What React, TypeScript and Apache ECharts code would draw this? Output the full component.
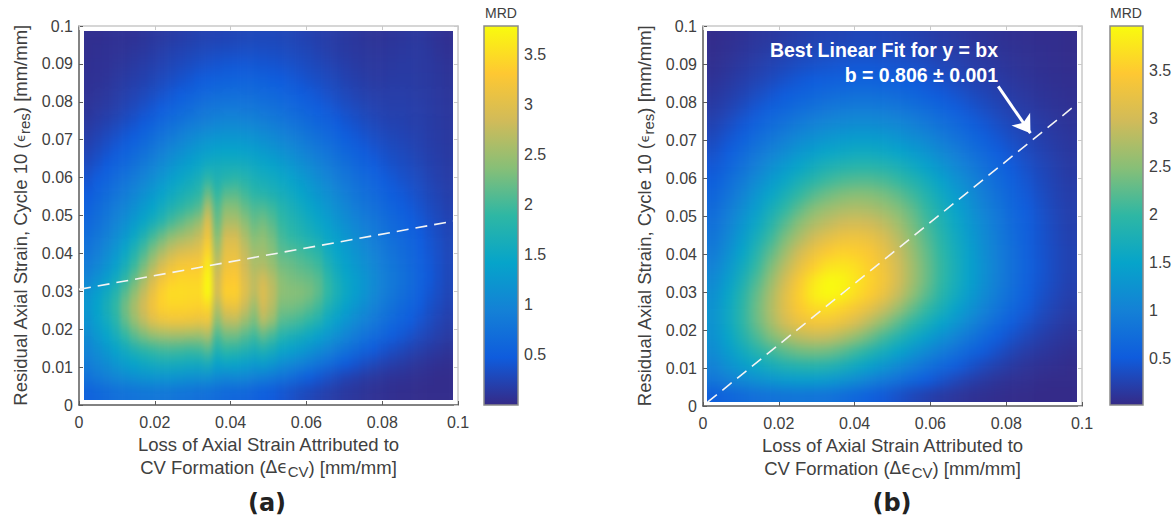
import React, { useEffect, useRef } from "react";
import * as echarts from "echarts";

// MRD: rows top (y≈0.097) to bottom (y≈0.003), 40 columns left to right
const panelARows: number[][] = [
[.05,.05,.06,.07,.07,.08,.1,.12,.14,.16,.18,.2,.22,.23,.24,.25,.26,.27,.28,.28,.28,.27,.26,.24,.22,.2,.18,.16,.14,.12,.1,.09,.09,.1,.11,.12,.12,.1,.08,.06],
[.05,.06,.07,.08,.09,.11,.13,.16,.19,.22,.24,.26,.28,.3,.32,.33,.34,.35,.35,.34,.33,.32,.3,.28,.26,.23,.2,.17,.15,.13,.12,.11,.11,.12,.13,.14,.14,.12,.09,.07],
[.06,.07,.08,.1,.12,.15,.18,.21,.24,.27,.3,.33,.36,.39,.41,.43,.44,.44,.43,.42,.41,.39,.37,.34,.31,.28,.25,.22,.19,.16,.14,.13,.13,.14,.15,.15,.14,.13,.11,.09],
[.07,.08,.1,.13,.16,.19,.22,.26,.3,.34,.38,.42,.46,.5,.53,.55,.56,.56,.55,.53,.5,.47,.44,.41,.37,.34,.3,.27,.23,.2,.17,.15,.15,.16,.16,.16,.15,.14,.12,.1],
[.08,.1,.12,.16,.2,.24,.28,.33,.38,.43,.48,.53,.58,.62,.66,.68,.69,.68,.66,.64,.61,.57,.53,.49,.45,.41,.36,.32,.28,.24,.21,.19,.18,.18,.18,.17,.16,.15,.13,.11],
[.1,.13,.16,.2,.25,.3,.36,.42,.48,.55,.61,.67,.73,.78,.82,.84,.84,.82,.8,.77,.73,.69,.64,.59,.54,.49,.44,.39,.34,.3,.26,.23,.21,.2,.2,.19,.18,.16,.14,.12],
[.14,.18,.22,.27,.33,.39,.46,.54,.62,.7,.77,.84,.9,.95,1.0,1.02,1.02,1.0,.97,.93,.88,.83,.77,.71,.65,.59,.53,.47,.42,.37,.32,.28,.25,.23,.22,.2,.19,.17,.15,.13],
[.19,.24,.3,.36,.43,.5,.59,.68,.77,.86,.94,1.02,1.1,1.16,1.2,1.22,1.22,1.2,1.16,1.11,1.05,.98,.92,.85,.78,.71,.64,.57,.5,.44,.39,.34,.3,.27,.25,.23,.21,.18,.16,.14],
[.25,.31,.38,.45,.53,.62,.72,.82,.92,1.02,1.11,1.2,1.28,1.35,1.4,1.42,1.42,1.38,1.34,1.28,1.22,1.15,1.08,1.0,.92,.84,.76,.68,.6,.53,.46,.41,.36,.32,.29,.26,.23,.2,.17,.15],
[.32,.39,.47,.55,.64,.74,.85,.96,1.07,1.18,1.28,1.37,1.46,1.56,1.6,1.62,1.62,1.58,1.52,1.46,1.4,1.32,1.24,1.15,1.06,.97,.88,.79,.71,.63,.55,.48,.42,.37,.33,.3,.26,.22,.19,.16],
[.4,.48,.56,.66,.76,.87,.99,1.11,1.23,1.35,1.45,1.55,1.65,1.85,1.72,1.8,1.85,1.78,1.68,1.62,1.56,1.48,1.4,1.3,1.2,1.1,1.0,.9,.81,.72,.64,.56,.49,.43,.38,.34,.3,.25,.21,.18],
[.47,.56,.66,.77,.88,1.0,1.13,1.26,1.39,1.52,1.63,1.73,1.84,2.2,1.9,2.1,2.12,1.98,1.84,1.78,1.7,1.62,1.53,1.43,1.32,1.22,1.12,1.01,.91,.81,.72,.64,.56,.49,.44,.39,.34,.28,.24,.2],
[.55,.65,.76,.88,1.0,1.14,1.28,1.42,1.57,1.72,1.85,1.96,2.08,2.6,2.08,2.38,2.36,2.18,2.05,2.05,1.95,1.78,1.66,1.56,1.45,1.34,1.23,1.12,1.01,.9,.81,.72,.64,.57,.5,.44,.38,.32,.27,.22],
[.62,.72,.84,.97,1.12,1.28,1.45,1.62,1.78,2.0,2.15,2.3,2.45,2.95,2.2,2.6,2.6,2.4,2.2,2.25,2.1,1.9,1.78,1.68,1.57,1.46,1.34,1.22,1.11,1.0,.9,.8,.72,.64,.57,.5,.43,.36,.3,.25],
[.7,.8,.93,1.08,1.25,1.48,1.72,1.98,2.2,2.4,2.52,2.62,2.75,3.15,2.35,2.88,2.88,2.6,2.35,2.4,2.25,2.0,1.88,1.78,1.68,1.57,1.45,1.33,1.21,1.09,.98,.87,.78,.69,.62,.55,.47,.4,.33,.27],
[.78,.9,1.05,1.22,1.45,1.72,2.0,2.3,2.55,2.75,2.88,2.95,3.02,3.4,2.55,3.05,3.05,2.75,2.5,2.5,2.35,2.1,2.05,1.98,1.9,1.8,1.55,1.42,1.3,1.18,1.06,.95,.84,.75,.67,.6,.5,.42,.35,.28],
[.88,1.0,1.16,1.35,1.62,1.92,2.25,2.58,2.88,3.1,3.22,3.25,3.25,3.6,2.72,3.15,3.18,2.85,2.6,2.6,2.45,2.25,2.2,2.12,2.05,1.95,1.7,1.52,1.38,1.25,1.13,1.01,.9,.8,.71,.63,.53,.44,.36,.29],
[1.0,1.15,1.32,1.55,1.85,2.18,2.52,2.88,3.18,3.35,3.42,3.42,3.42,3.72,2.85,3.28,3.3,2.95,2.72,2.85,2.65,2.38,2.3,2.25,2.2,2.1,1.85,1.63,1.47,1.33,1.2,1.07,.95,.84,.75,.66,.55,.45,.36,.28],
[1.2,1.35,1.55,1.78,2.1,2.42,2.75,3.1,3.38,3.5,3.5,3.48,3.48,3.75,2.9,3.38,3.38,3.0,2.72,2.95,2.72,2.42,2.38,2.36,2.3,2.15,1.9,1.68,1.5,1.35,1.2,1.05,.92,.82,.72,.62,.52,.42,.34,.27],
[1.25,1.42,1.65,1.9,2.25,2.58,2.88,3.18,3.38,3.42,3.42,3.4,3.38,3.45,2.65,3.08,3.12,2.8,2.5,2.85,2.65,2.3,2.28,2.22,2.12,1.98,1.72,1.55,1.38,1.23,1.1,.96,.84,.74,.64,.56,.46,.37,.3,.24],
[1.2,1.36,1.56,1.8,2.15,2.45,2.72,2.98,3.12,3.18,3.18,3.16,3.12,3.15,2.4,2.7,2.72,2.5,2.3,2.65,2.45,2.1,2.05,1.98,1.86,1.72,1.5,1.35,1.2,1.06,.94,.83,.72,.63,.55,.47,.39,.32,.25,.2],
[1.1,1.25,1.42,1.62,1.88,2.12,2.3,2.45,2.52,2.55,2.55,2.52,2.5,2.6,2.05,2.25,2.25,2.1,1.98,2.15,2.0,1.78,1.68,1.6,1.5,1.38,1.26,1.13,1.0,.88,.77,.67,.58,.5,.43,.37,.3,.25,.2,.16],
[1.0,1.12,1.26,1.41,1.56,1.72,1.84,1.92,1.98,2.0,1.98,1.95,1.98,2.1,1.75,1.88,1.85,1.75,1.65,1.72,1.62,1.46,1.38,1.3,1.2,1.1,.98,.87,.76,.66,.56,.47,.4,.34,.29,.24,.2,.16,.13,.1],
[.9,1.0,1.1,1.22,1.33,1.42,1.5,1.56,1.6,1.6,1.58,1.56,1.55,1.62,1.4,1.46,1.44,1.36,1.3,1.32,1.24,1.12,1.04,.96,.87,.78,.68,.58,.49,.41,.34,.28,.23,.19,.16,.13,.1,.08,.06,.05],
[.75,.84,.92,1.0,1.07,1.12,1.17,1.2,1.2,1.2,1.18,1.15,1.13,1.13,1.05,1.0,1.02,1.0,.92,.88,.82,.74,.66,.58,.5,.42,.35,.29,.23,.19,.15,.12,.1,.08,.07,.06,.05,.04,.03,.03],
[.55,.6,.65,.7,.74,.77,.79,.8,.8,.79,.77,.75,.72,.7,.66,.62,.6,.58,.54,.5,.46,.41,.36,.31,.27,.23,.19,.16,.13,.11,.09,.07,.06,.05,.04,.04,.03,.03,.03,.03],
];

// MRD: rows top to bottom, 26 columns left to right
const panelBRows: number[][] = [
[.05,.07,.1,.14,.16,.19,.22,.25,.27,.28,.3,.3,.29,.27,.25,.22,.19,.17,.14,.12,.1,.08,.07,.06,.06,.05],
[.06,.09,.13,.17,.21,.25,.29,.32,.34,.36,.37,.37,.36,.34,.31,.28,.24,.21,.18,.15,.12,.1,.08,.07,.06,.05],
[.08,.12,.17,.22,.27,.32,.37,.41,.44,.46,.47,.47,.46,.43,.4,.36,.31,.27,.22,.18,.15,.12,.1,.08,.07,.06],
[.11,.16,.22,.28,.34,.41,.47,.52,.55,.58,.6,.6,.58,.55,.51,.46,.4,.34,.28,.23,.19,.15,.12,.1,.08,.07],
[.15,.21,.28,.36,.44,.52,.59,.65,.7,.74,.76,.76,.74,.7,.64,.57,.5,.43,.36,.3,.24,.19,.15,.12,.1,.08],
[.2,.27,.36,.46,.56,.65,.74,.81,.87,.92,.95,.95,.92,.87,.8,.72,.63,.54,.45,.37,.3,.24,.19,.15,.12,.1],
[.26,.35,.46,.58,.7,.81,.91,1.0,1.07,1.12,1.15,1.15,1.12,1.07,.99,.89,.78,.67,.56,.46,.37,.3,.24,.19,.15,.12],
[.33,.44,.57,.71,.85,.98,1.1,1.2,1.28,1.34,1.38,1.38,1.34,1.27,1.18,1.07,.94,.81,.68,.56,.45,.36,.29,.23,.18,.14],
[.4,.53,.68,.84,1.0,1.15,1.3,1.42,1.52,1.58,1.62,1.62,1.58,1.5,1.39,1.26,1.11,.96,.81,.67,.54,.43,.34,.27,.21,.16],
[.47,.62,.79,.98,1.17,1.35,1.51,1.66,1.78,1.85,1.9,1.9,1.85,1.75,1.62,1.46,1.28,1.1,.94,.78,.63,.5,.39,.31,.24,.18],
[.55,.72,.92,1.13,1.34,1.55,1.75,1.92,2.06,2.15,2.2,2.2,2.14,2.02,1.87,1.68,1.47,1.26,1.07,.88,.71,.56,.44,.34,.26,.2],
[.63,.82,1.04,1.28,1.52,1.76,2.0,2.2,2.35,2.45,2.5,2.48,2.4,2.26,2.08,1.86,1.62,1.39,1.17,.97,.78,.62,.48,.37,.28,.22],
[.7,.92,1.16,1.42,1.7,1.98,2.25,2.48,2.62,2.72,2.76,2.72,2.62,2.46,2.26,2.0,1.74,1.49,1.26,1.04,.84,.66,.52,.4,.3,.23],
[.78,1.0,1.27,1.56,1.87,2.2,2.5,2.72,2.86,2.98,3.02,2.98,2.85,2.65,2.38,2.1,1.83,1.57,1.33,1.1,.89,.7,.55,.42,.32,.24],
[.85,1.09,1.38,1.7,2.05,2.42,2.72,2.98,3.16,3.28,3.3,3.24,3.06,2.8,2.5,2.2,1.91,1.64,1.39,1.15,.93,.73,.57,.43,.33,.25],
[.93,1.19,1.5,1.85,2.24,2.62,2.98,3.26,3.45,3.55,3.52,3.42,3.22,2.92,2.6,2.28,1.98,1.7,1.44,1.19,.96,.76,.58,.44,.34,.26],
[1.02,1.3,1.63,2.0,2.42,2.82,3.2,3.5,3.72,3.76,3.68,3.52,3.3,3.0,2.66,2.32,2.02,1.73,1.46,1.21,.98,.77,.59,.45,.34,.26],
[1.12,1.42,1.76,2.15,2.58,3.0,3.42,3.76,3.95,3.92,3.75,3.56,3.35,3.02,2.66,2.32,2.0,1.72,1.45,1.2,.97,.76,.58,.44,.34,.25],
[1.2,1.52,1.88,2.28,2.7,3.14,3.52,3.82,3.95,3.86,3.66,3.5,3.25,2.9,2.54,2.22,1.92,1.65,1.39,1.15,.92,.72,.55,.41,.31,.23],
[1.25,1.58,1.94,2.33,2.74,3.14,3.45,3.62,3.66,3.55,3.38,3.18,2.9,2.6,2.28,2.0,1.74,1.49,1.25,1.03,.82,.64,.49,.36,.27,.2],
[1.26,1.58,1.93,2.3,2.66,3.0,3.24,3.36,3.36,3.24,3.04,2.78,2.5,2.22,1.96,1.72,1.5,1.28,1.07,.87,.69,.53,.4,.3,.22,.16],
[1.22,1.5,1.82,2.12,2.42,2.65,2.82,2.9,2.88,2.74,2.54,2.32,2.08,1.84,1.62,1.41,1.22,1.03,.85,.68,.53,.4,.3,.22,.16,.12],
[1.14,1.38,1.62,1.86,2.06,2.22,2.34,2.38,2.34,2.22,2.05,1.86,1.67,1.48,1.29,1.11,.94,.78,.63,.5,.38,.28,.2,.15,.11,.08],
[1.02,1.21,1.39,1.55,1.69,1.8,1.86,1.88,1.84,1.74,1.6,1.44,1.28,1.12,.96,.81,.67,.54,.42,.32,.24,.17,.12,.09,.07,.05],
[.84,.98,1.1,1.2,1.29,1.35,1.38,1.38,1.34,1.26,1.15,1.02,.89,.76,.63,.51,.41,.31,.23,.17,.12,.09,.07,.05,.04,.04],
[.55,.63,.7,.76,.8,.83,.84,.83,.8,.74,.66,.57,.48,.39,.31,.24,.18,.14,.1,.08,.06,.05,.04,.03,.03,.03],
];

const parula = ["#352A87", "#0F5CDD", "#1481D6", "#06A4CA", "#2EB7A4", "#87BF77", "#D1BB59", "#FEC832", "#F9FB0E"];

const mrdRangeA = [0, 3.78];
const mrdRangeB = [0.02, 3.96];
const colorbarTicks = [0.5, 1, 1.5, 2, 2.5, 3, 3.5];

const fitLineA = [[0, 0.0305], [0.0987, 0.0485]];
const fitLineB = [[0.0012, 0.001], [0.0987, 0.0795]];
const arrowB = [[0.0779, 0.0841], [0.0864, 0.0718]];

const xTitleLine1 = "Loss of Axial Strain Attributed to";
const annotationLine1 = "Best Linear Fit for y = bx";
const annotationLine2 = "b = 0.806 ± 0.001";

const FONT = "Liberation Sans";
const TEXT = "#404040";
const AXIS = "#5a5a5a";
const LIGHT = "#c9c9c9";
const RING = 3;

function heatOption(rows: number[][], range: number[]) {
  const nRows = rows.length;
  const nCols = rows[0].length;
  const data: number[][] = [];
  for (let r = -RING; r < nRows + RING; r++) {
    for (let c = -RING; c < nCols + RING; c++) {
      const rr = Math.min(nRows - 1, Math.max(0, r));
      const cc = Math.min(nCols - 1, Math.max(0, c));
      data.push([c + RING, nRows + RING - 1 - r, rows[rr][cc]]);
    }
  }
  const xCats = Array.from({ length: nCols + 2 * RING }, (_, i) => String(i));
  const yCats = Array.from({ length: nRows + 2 * RING }, (_, i) => String(i));
  return {
    animation: false,
    grid: { left: 0, right: 0, top: 0, bottom: 0 },
    xAxis: { type: "category", data: xCats, show: false },
    yAxis: { type: "category", data: yCats, show: false },
    visualMap: { show: false, min: range[0], max: range[1], dimension: 2, inRange: { color: parula } },
    series: [{ type: "heatmap", data, itemStyle: { borderWidth: 0 }, emphasis: { disabled: true } }],
  };
}

const richBase = {
  t: { fontFamily: FONT, fontSize: 18.5, color: TEXT, lineHeight: 23, verticalAlign: "middle" },
  e: { fontFamily: "DejaVu Sans", fontSize: 13, color: TEXT, lineHeight: 23, verticalAlign: "middle" },
  d: { fontFamily: "DejaVu Sans", fontSize: 17, color: TEXT, lineHeight: 23, verticalAlign: "middle" },
  s: { fontFamily: FONT, fontSize: 15, color: TEXT, lineHeight: 23, verticalAlign: "bottom", padding: [7, 0, 0, 0] },
};

function mainAxes(isY: boolean, gridIndex: number) {
  const base: any = {
    type: "value", gridIndex, min: 0, max: 0.1, interval: isY ? 0.01 : 0.02,
    splitLine: { show: false },
    axisLine: { show: true, onZero: false, lineStyle: { color: AXIS, width: 1.5 } },
    axisTick: { show: true, inside: true, length: 4, lineStyle: { color: AXIS } },
    axisLabel: { fontFamily: FONT, fontSize: 16, color: TEXT, margin: isY ? 6 : 9 },
  };
  const opp: any = {
    type: "value", gridIndex, min: 0, max: 0.1, interval: isY ? 0.01 : 0.02,
    position: isY ? "right" : "top",
    splitLine: { show: false },
    axisLine: { show: true, onZero: false, lineStyle: { color: LIGHT, width: 1.5 } },
    axisTick: { show: true, inside: true, length: 4, lineStyle: { color: LIGHT } },
    axisLabel: { show: false },
  };
  base.position = isY ? "left" : "bottom";
  base.nameLocation = "middle";
  base.nameTextStyle = { rich: richBase };
  if (isY) {
    base.name = "{t|Residual Axial Strain, Cycle 10 (}{e|ϵ}{s|res}{t|) [mm/mm]}";
    base.nameGap = 47;
    base.nameRotate = 90;
  } else {
    base.name = `{t|${xTitleLine1}}\n{t|CV Formation (}{d|Δϵ}{s|CV}{t|) [mm/mm]}`;
    base.nameGap = 27;
    base.nameTextStyle = { rich: richBase, verticalAlign: "top" };
  }
  return [base, opp];
}

function barAxis(gridIndex: number, range: number[]) {
  return {
    type: "value", gridIndex, position: "right", min: range[0], max: range[1],
    name: "MRD", nameLocation: "end", nameGap: 6,
    nameTextStyle: { fontFamily: FONT, fontSize: 14, color: TEXT, align: "center", padding: [0, 34, 0, 0] },
    splitLine: { show: false },
    axisLine: { show: false },
    axisTick: { show: true, inside: true, length: 4, customValues: colorbarTicks, lineStyle: { color: "#333" } },
    axisLabel: { fontFamily: FONT, fontSize: 16, color: TEXT, margin: 6, customValues: colorbarTicks, formatter: (v: number) => String(v) },
  };
}

const gradient = {
  type: "linear", x: 0, y: 1, x2: 0, y2: 0,
  colorStops: parula.map((color, i) => ({ offset: i / (parula.length - 1), color })),
};

const overlayOption: any = {
  animation: false,
  grid: [
    { left: 79, top: 26, width: 379, height: 379 },
    { left: 703, top: 26, width: 379, height: 380 },
    { left: 484, top: 26, width: 34, height: 379, show: true, borderColor: "#8a8a8a", borderWidth: 1.5, z: 5 },
    { left: 1110, top: 26, width: 33, height: 379, show: true, borderColor: "#8a8a8a", borderWidth: 1.5, z: 5 },
  ],
  xAxis: [
    ...mainAxes(false, 0),
    ...mainAxes(false, 1),
    { type: "category", gridIndex: 2, data: ["MRD"], show: false },
    { type: "category", gridIndex: 3, data: ["MRD"], show: false },
  ],
  yAxis: [
    ...mainAxes(true, 0),
    ...mainAxes(true, 1),
    barAxis(2, mrdRangeA),
    barAxis(3, mrdRangeB),
  ],
  series: [
    {
      type: "line", xAxisIndex: 0, yAxisIndex: 0, data: fitLineA, showSymbol: false, silent: true,
      lineStyle: { color: "#f4f4f4", width: 1.6, type: [12, 7] },
    },
    {
      type: "line", xAxisIndex: 2, yAxisIndex: 2, data: fitLineB, showSymbol: false, silent: true,
      lineStyle: { color: "#f4f4f4", width: 1.6, type: [12, 7] },
      markLine: {
        silent: true, animation: false, precision: 5, label: { show: false },
        symbol: ["none", "arrow"], symbolSize: 17,
        lineStyle: { color: "#ffffff", width: 3, type: "solid" },
        data: [[{ coord: arrowB[0] }, { coord: arrowB[1] }]],
      },
    },
    {
      type: "bar", xAxisIndex: 4, yAxisIndex: 4, data: [mrdRangeA[1]], barWidth: "100%", silent: true,
      itemStyle: { color: gradient },
    },
    {
      type: "bar", xAxisIndex: 5, yAxisIndex: 5, data: [mrdRangeB[1]], barWidth: "100%", silent: true,
      itemStyle: { color: gradient },
    },
  ],
  graphic: [
    { type: "text", x: 267, y: 503, style: { text: "(a)", fontFamily: "DejaVu Sans", fontWeight: "bold", fontSize: 24, fill: "#222", align: "center", verticalAlign: "middle" } },
    { type: "text", x: 892, y: 503, style: { text: "(b)", fontFamily: "DejaVu Sans", fontWeight: "bold", fontSize: 24, fill: "#222", align: "center", verticalAlign: "middle" } },
    { type: "text", x: 998, y: 50, style: { text: annotationLine1, fontFamily: FONT, fontWeight: "bold", fontSize: 19.5, fill: "#fff", align: "right", verticalAlign: "middle" } },
    { type: "text", x: 998, y: 75, style: { text: annotationLine2, fontFamily: FONT, fontWeight: "bold", fontSize: 19.5, fill: "#fff", align: "right", verticalAlign: "middle" } },
  ],
};

function HeatLayer(props: { rows: number[][]; range: number[]; left: number; top: number; width: number; height: number; filter: string }) {
  const ref = useRef<HTMLDivElement>(null);
  const { rows, range, left, top, width, height, filter } = props;
  const cellW = width / rows[0].length;
  const cellH = height / rows.length;
  const padX = RING * cellW;
  const padY = RING * cellH;
  useEffect(() => {
    const chart = echarts.init(ref.current!, undefined, { renderer: "svg" });
    chart.setOption(heatOption(rows, range));
    return () => chart.dispose();
  }, []);
  return (
    <div style={{ position: "absolute", left, top, width, height, overflow: "hidden" }}>
      <div
        ref={ref}
        style={{ position: "absolute", left: -padX, top: -padY, width: width + 2 * padX, height: height + 2 * padY, filter: `url(#${filter})` }}
      />
    </div>
  );
}

export default function App() {
  const ref = useRef<HTMLDivElement>(null);
  useEffect(() => {
    const chart = echarts.init(ref.current!, undefined, { renderer: "svg" });
    chart.setOption(overlayOption);
    return () => chart.dispose();
  }, []);
  return (
    <div style={{ position: "absolute", left: 0, top: 0, width: 1175, height: 521, background: "#fff", overflow: "hidden" }}>
      <svg width="0" height="0" style={{ position: "absolute" }}>
        <filter id="blurA" x="-10%" y="-10%" width="120%" height="120%" colorInterpolationFilters="sRGB">
          <feGaussianBlur stdDeviation="2.5 6.5" />
        </filter>
        <filter id="blurB" x="-10%" y="-10%" width="120%" height="120%" colorInterpolationFilters="sRGB">
          <feGaussianBlur stdDeviation="6 6" />
        </filter>
      </svg>
      <HeatLayer rows={panelARows} range={mrdRangeA} left={84} top={31} width={369} height={369} filter="blurA" />
      <HeatLayer rows={panelBRows} range={mrdRangeB} left={707} top={31} width={370} height={371} filter="blurB" />
      <div ref={ref} style={{ position: "absolute", left: 0, top: 0, width: 1175, height: 521 }} />
    </div>
  );
}
